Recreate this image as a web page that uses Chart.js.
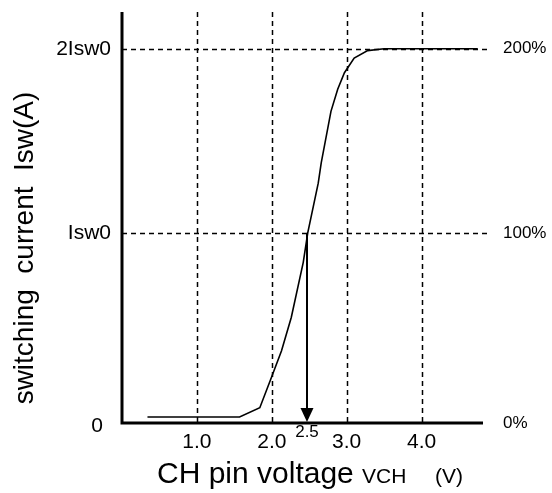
<!DOCTYPE html>
<html>
<head>
<meta charset="utf-8">
<script src="https://cdn.jsdelivr.net/npm/chart.js@4"></script>
<style>
  html, body { margin: 0; padding: 0; background: #fff; }
  #wrap { width: 552px; height: 493px; }
</style>
</head>
<body>
<div id="wrap"><canvas id="chart" width="552" height="493"></canvas></div>
<script>
// Switching current vs CH pin voltage
// y is in units of Isw0

const vchVolts   = [0.34, 1.57, 1.84, 2.00, 2.13, 2.26, 2.42, 2.48, 2.62, 2.66, 2.79, 2.88, 2.97, 3.10, 3.28, 3.50, 4.75];
const iswValues  = [0.00, 0.00, 0.05, 0.22, 0.36, 0.54, 0.84, 1.00, 1.27, 1.38, 1.66, 1.78, 1.87, 1.95, 1.99, 2.00, 2.00];

const xTicks      = [1.0, 2.0, 3.0, 4.0];
const xTickLabels = ['1.0', '2.0', '3.0', '4.0'];
const yTicks      = [1, 2];
const yTickLabels = ['Isw0', '2Isw0'];
const pctLabels   = ['100%', '200%'];

const arrowX     = 2.47;
const arrowLabel = '2.5';

const X_MIN = 0, X_MAX = 4.82;
const Y_MIN = -0.033, Y_MAX = 2.2;

const FONT = '"Liberation Sans", Arial, sans-serif';

function dashLine(ctx, x1, y1, x2, y2) {
  ctx.save();
  ctx.strokeStyle = '#000';
  ctx.lineWidth = 1.5;
  ctx.setLineDash([5, 4]);
  ctx.beginPath();
  ctx.moveTo(x1, y1);
  ctx.lineTo(x2, y2);
  ctx.stroke();
  ctx.restore();
}

// ── Dashed guide lines, under the curve ─────────────────────────────────────
const guides = {
  id: 'guides',
  beforeDatasetsDraw(chart) {
    const { ctx, chartArea, scales: { x, y } } = chart;
    xTicks.forEach(v => {
      const px = Math.round(x.getPixelForValue(v)) + 0.5;
      dashLine(ctx, px, chartArea.top, px, chartArea.bottom);
    });
    yTicks.forEach(v => {
      const py = Math.round(y.getPixelForValue(v)) + 0.5;
      dashLine(ctx, chartArea.left, py, chartArea.right + 7, py);
    });
  }
};

// ── Axes, arrow and all labels ──────────────────────────────────────────────
const decor = {
  id: 'decor',
  afterDatasetsDraw(chart) {
    const { ctx, chartArea, scales: { x, y } } = chart;
    const { left, right, top, bottom } = chartArea;

    ctx.save();
    ctx.fillStyle = '#000';
    ctx.strokeStyle = '#000';

    // axis lines
    ctx.lineWidth = 3;
    ctx.beginPath();
    ctx.moveTo(left, top);
    ctx.lineTo(left, bottom);
    ctx.lineTo(right, bottom);
    ctx.stroke();

    // arrow from the Isw0 crossing down to the axis
    const ax = x.getPixelForValue(arrowX);
    const ay = y.getPixelForValue(1);
    ctx.lineWidth = 2;
    ctx.beginPath();
    ctx.moveTo(ax, ay);
    ctx.lineTo(ax, bottom - 12);
    ctx.stroke();
    ctx.beginPath();
    ctx.moveTo(ax - 6.5, bottom - 15);
    ctx.lineTo(ax + 6.5, bottom - 15);
    ctx.lineTo(ax, bottom - 1);
    ctx.closePath();
    ctx.fill();

    // x tick labels
    ctx.font = '21px ' + FONT;
    ctx.textAlign = 'center';
    ctx.textBaseline = 'middle';
    xTicks.forEach((v, i) => {
      ctx.fillText(xTickLabels[i], x.getPixelForValue(v), bottom + 19);
    });
    ctx.font = '17px ' + FONT;
    ctx.fillText(arrowLabel, ax, bottom + 9);

    // y tick labels (left)
    ctx.font = '21px ' + FONT;
    ctx.textAlign = 'right';
    yTicks.forEach((v, i) => {
      ctx.fillText(yTickLabels[i], left - 11, y.getPixelForValue(v));
    });
    ctx.fillText('0', left - 19, bottom + 3);

    // percentage labels (right)
    ctx.font = '17px ' + FONT;
    ctx.textAlign = 'left';
    yTicks.forEach((v, i) => {
      ctx.fillText(pctLabels[i], 503, y.getPixelForValue(v));
    });
    ctx.fillText('0%', 503, bottom);

    // x title
    ctx.textBaseline = 'alphabetic';
    ctx.font = '30px ' + FONT;
    ctx.fillText('CH pin voltage', 157, 483);
    ctx.font = '21px ' + FONT;
    ctx.fillText('VCH', 362, 483);
    ctx.fillText('(V)', 435, 483);

    // y title
    ctx.translate(33, 248);
    ctx.rotate(-Math.PI / 2);
    ctx.textAlign = 'center';
    ctx.font = '28px ' + FONT;
    ctx.fillText('switching  current  Isw(A)', 0, 0);

    ctx.restore();
  }
};

new Chart(document.getElementById('chart'), {
  type: 'line',
  data: {
    datasets: [{
      data: vchVolts.map((v, i) => ({ x: v, y: iswValues[i] })),
      borderColor: '#000',
      borderWidth: 1.6,
      pointRadius: 0,
      tension: 0,
      fill: false
    }]
  },
  options: {
    responsive: false,
    animation: false,
    parsing: false,
    layout: { padding: { left: 122, right: 69, top: 12, bottom: 70 } },
    plugins: { legend: { display: false }, tooltip: { enabled: false } },
    scales: {
      x: { type: 'linear', min: X_MIN, max: X_MAX, display: false },
      y: { type: 'linear', min: Y_MIN, max: Y_MAX, display: false }
    }
  },
  plugins: [guides, decor]
});
</script>
</body>
</html>
